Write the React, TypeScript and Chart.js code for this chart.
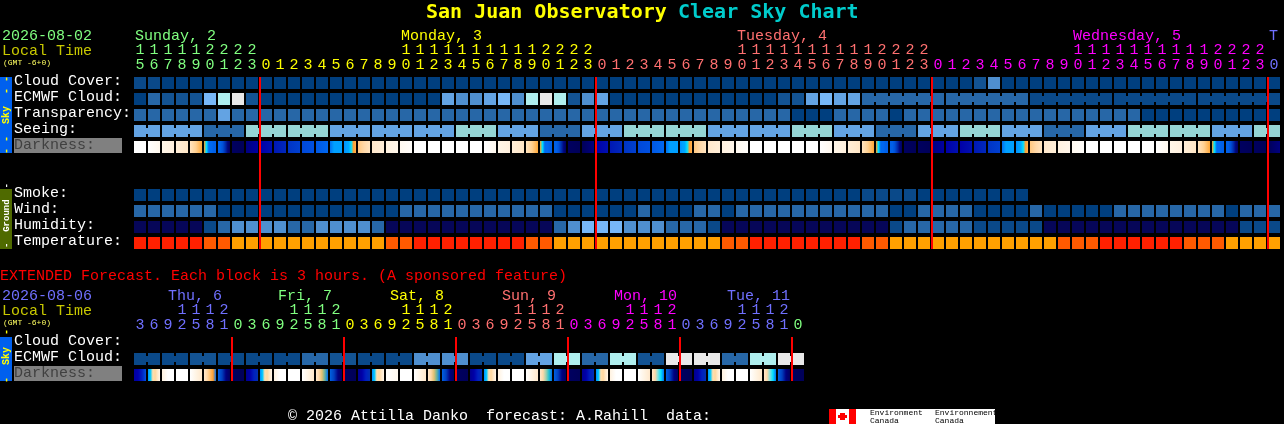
import React, { useEffect, useRef } from "react";
import { Chart, registerables } from "chart.js";

Chart.register(...registerables);

const MONO = '"Liberation Mono", monospace';
const TITLE_FONT = '"DejaVu Sans Mono", monospace';

// colour tables, values below index into them
const skyPalette = ["#003f7f", "#0a4989", "#135393", "#2767a7", "#4f8fcf", "#63a3e3", "#77b7f7", "#afeeee", "#e9e9e9", "#95d5d5", "#060658"];
const tempPalette = ["#ff2000", "#ff5a00", "#ffa000"];
const darknessStops: Record<string, string[]> = {
  W: ["#ffffff", "#ffffff"],
  A: ["#ffffff", "#fff8ee"],
  B: ["#fff6e8", "#fff0de"],
  C: ["#ffeed8", "#ffe6c6"],
  D: ["#ffe4c0", "#ffd090", "#ffa838"],
  E: ["#ffa020", "#00e0ff", "#0068f0", "#0068f0", "#0060e8", "#0060e8"],
  F: ["#0060e8", "#0060e8", "#0050d8", "#0030b0", "#000880", "#000060"],
  N: ["#000060", "#000058"],
  O: ["#000058", "#000080"],
  G: ["#000080", "#0000a0"],
  H: ["#0000a8", "#0010b0"],
  I: ["#0018b4", "#0028bc"],
  J: ["#0034c4", "#0040d0"],
  K: ["#0048d8", "#0050e0"],
  L: ["#0058e4", "#0068f0"],
  M: ["#0070f0", "#00a0ff", "#00a0ff", "#00a0ff"],
  P: ["#0090ff", "#00a0ff", "#00a8ff", "#00e0ff", "#ffa030", "#ffb050"],
  Q: ["#ffc880", "#ffd8a8", "#ffe4c0"],
  R: ["#ffe8cc", "#ffeed8"],
  S: ["#fff2e0", "#fff6ea"],
  T: ["#fff9f0", "#fffdfa"],
  a: ["#0000a0", "#0000b0", "#0020c0", "#0050e0"],
  b: ["#0090ff", "#00c8ff", "#ffe0b0", "#ffd8a0", "#ffe8c8", "#fff6ea"],
  c: ["#fff2e0", "#ffffff", "#ffffff"],
  e: ["#ffffff", "#fff4e4", "#ffe8cc"],
  f: ["#ffe8cc", "#ffd8a8", "#ffc070", "#ffa030", "#0070f0"],
  g: ["#0060e0", "#0040c0", "#000080", "#000060"],
  h: ["#000090", "#0000a8", "#0020c0", "#0030b0"],
  i: ["#ffe8cc", "#ffd8a8", "#e0c070", "#60b0a0", "#0070f0"],
  j: ["#ffe8cc", "#ffd8a8", "#a0d0b0", "#20c0d0", "#0070f0"],
  k: ["#ffe8cc", "#ffd8a8", "#80e0e0", "#00e0ff", "#0070f0"],
};

// hourly forecast
const hours = [15,16,17,18,19,20,21,22,23,
  0,1,2,3,4,5,6,7,8,9,10,11,12,13,14,15,16,17,18,19,20,21,22,23,
  0,1,2,3,4,5,6,7,8,9,10,11,12,13,14,15,16,17,18,19,20,21,22,23,
  0,1,2,3,4,5,6,7,8,9,10,11,12,13,14,15,16,17,18,19,20,21,22,23,
  0];
const hourDayColours = [[0, "#80ff80"], [9, "#ffff00"], [33, "#ff7070"], [57, "#ff00ff"], [81, "#7070ff"]] as [number, string][];
const midnights = [9, 33, 57, 81];
const mainRows = ["Cloud Cover:", "ECMWF Cloud:", "Transparency:", "Seeing:", "Darkness:", "", "", "Smoke:", "Wind:", "Humidity:", "Temperature:"];

const cloudCover = [
  1,1,0,0,0,0,0,0,0,0, 0,0,0,0,0,0,0,0,0,0, 0,0,0,0,0,0,0,0,0,0, 0,0,0,0,0,0,0,0,0,0,
  0,0,0,0,0,0,0,0,0,0, 0,0,0,0,0,0,0,0,0,0, 2,4,0,0,0,0,0,0,0,0, 0,0,0,0,0,0,0,0,0,0, 0,0];
const ecmwfCloud = [
  0,3,2,2,2,6,7,8,2,0, 0,0,0,0,0,0,0,0,0,0, 0,0,5,4,4,5,6,4,7,8, 7,2,4,5,0,0,0,0,0,0,
  0,0,0,0,0,0,2,2,5,6, 5,5,3,3,3,3,3,3,3,3, 3,3,3,3,1,1,1,1,1,1, 1,1,1,1,1,1,1,1,1,1, 1,1];
const ecmwfBlocks = [1,1,1,1,1,1,1,1,1,1, 1,1,1,1,1,1,1,1,1,1, 1,1,1,1,1,1,1,1,1,1, 1,1,1,1,1,1,1,1,1,1, 1,1,1,1,1,1,1,1,1,1, 1,1, 6,6,6,6,6];
const transparency = [
  3,3,3,3,3,3,5,3,3,3, 3,3,3,3,3,3,3,3,3,3, 3,3,3,3,3,3,3,3,3,3, 3,3,3,3,3,3,3,3,3,3,
  3,3,3,3,3,3,3,0,0,0, 3,3,3,3,0,3,3,3,3,3, 3,3,3,3,3,3,3,3,3,3, 3,3,0,0,0,0,0,0,0,0, 0,0];
const seeing = [
  5,5,5,5,5,3,3,3,9,9, 9,9,9,9,5,5,5,5,5,5, 5,5,5,9,9,9,5,5,5,3, 3,3,5,5,5,9,9,9,9,9,
  9,5,5,5,5,5,5,9,9,9, 5,5,5,3,3,3,5,5,5,9, 9,9,5,5,5,3,3,3,5,5, 5,9,9,9,9,9,9,5,5,5, 9,9];
const seeingBlocks = [2,3,3,3,3,3,3,3,3,3,3,3,3,3,3,3,3,3,3,3,3,3,3,3,3,3,3,2];
const darkness = [
  "W","A","B","C","D","E","F","N","G","H","I","J","K","L","M","P","Q","R","S","T","W","W","W","W",
  "W","A","B","C","D","E","F","N","O","H","I","J","K","L","M","P","Q","R","S","T","W","W","W","W",
  "W","A","B","C","D","E","F","N","N","G","H","H","I","J","M","P","Q","R","S","T","W","W","W","W",
  "W","A","B","C","D","E","F","N","N","O"];
const smoke = [
  0,0,0,0,0,0,0,0,0,0, 0,0,0,0,0,0,0,0,0,0, 0,0,0,0,0,0,0,0,0,0, 0,0,0,0,0,0,0,0,0,0,
  0,0,0,0,0,0,0,0,0,0, 0,0,1,1,1,1,0,0,0,0, 0,0,0,0];
const wind = [
  3,3,3,3,3,3,0,0,0,0, 0,0,0,0,0,0,0,0,0,3, 3,3,3,3,3,3,3,3,3,3, 0,0,0,0,0,0,3,0,0,0,
  3,3,0,3,3,3,3,3,3,3, 3,3,3,3,0,0,3,3,3,3, 0,0,0,0,3,0,0,0,0,0, 3,3,3,3,3,3,3,3,0,3, 3,3];
const humidity = [
  10,10,10,10,10,1,3,4,4,4, 4,3,3,4,4,4,4,3,10,10, 10,10,10,10,10,10,10,10,10,10, 3,4,6,6,6,4,4,4,3,3,
  3,1,10,10,10,10,10,10,10,10, 10,10,10,10,1,3,3,3,3,3, 1,1,1,1,1,10,10,10,10,10, 10,10,10,10,10,10,10,10,10,1, 1,1];
const temperature = [
  0,0,0,0,0,1,1,2,2,2, 2,2,2,2,2,2,2,2,1,1, 0,0,0,0,0,0,0,0,1,1, 2,2,2,2,2,2,2,2,2,2,
  2,2,1,1,0,0,0,0,0,0, 0,0,1,1,2,2,2,2,2,2, 2,2,2,2,2,2,1,1,1,0, 0,0,0,0,0,1,1,1,2,2, 2,2];

// extended forecast
const extHours = [3,6,9,12,15,18,21, 0,3,6,9,12,15,18,21, 0,3,6,9,12,15,18,21, 0,3,6,9,12,15,18,21, 0,3,6,9,12,15,18,21, 0,3,6,9,12,15,18,21, 0];
const extDayColours = [[0, "#7070ff"], [7, "#80ff80"], [15, "#ffff00"], [23, "#ff7070"], [31, "#ff00ff"], [39, "#7070ff"], [47, "#80ff80"]] as [number, string][];
const extMidnights = [7, 15, 23, 31, 39, 47];
const extRows = ["Cloud Cover:", "ECMWF Cloud:", "Darkness:"];
const extEcmwf = [1,1, 1,1, 2,2, 1,1, 1,1, 1,1, 3,3, 2,2, 1,1, 1,1, 4,4, 4,4, 1,1, 1,1, 5,5, 7,7, 3,3, 7,7, 2,2, 8,8, 8,8, 3,3, 7,7, 8,8];
const extBlocks = [2,2,2,2,2,2,2,2,2,2,2,2,2,2,2,2,2,2,2,2,2,2,2,2];
const extDarkness = [
  "a","b","c","W","e","f","g","N", "h","b","c","W","e","i","g","N",
  "h","b","A","W","e","i","g","N", "h","b","c","W","e","j","g","N",
  "h","b","c","W","e","k","g","N", "h","b","c","W","e","k","g","N"];

type Txt = { text: string; x: number; y: number; color: string; font: string; rot?: boolean };
const body = `15px ${MONO}`;
const tiny = `8px ${MONO}`;
const side = `bold 10px ${MONO}`;

const mainTexts: Txt[] = [
  { text: "San Juan Observatory", x: 426, y: 18, color: "#ffff00", font: `bold 20px ${TITLE_FONT}` },
  { text: "Clear Sky Chart", x: 678, y: 18, color: "#00cccc", font: `bold 20px ${TITLE_FONT}` },
  { text: "2026-08-02", x: 2, y: 40, color: "#80ff80", font: body },
  { text: "Local Time", x: 2, y: 55, color: "#c8c800", font: body },
  { text: "(GMT -6+0)", x: 3, y: 65, color: "#ffff60", font: tiny },
  { text: "Sunday, 2", x: 135, y: 40, color: "#80ff80", font: body },
  { text: "Monday, 3", x: 401, y: 40, color: "#ffff00", font: body },
  { text: "Tuesday, 4", x: 737, y: 40, color: "#ff7070", font: body },
  { text: "Wednesday, 5", x: 1073, y: 40, color: "#ff00ff", font: body },
  { text: "T", x: 1269, y: 40, color: "#7070ff", font: body },
  { text: "- -  Sky  - -", x: 9, y: 154, color: "#ffff00", font: side, rot: true },
  { text: "-  Ground  -", x: 9, y: 248, color: "#ffffff", font: `bold 9px ${MONO}`, rot: true },
];
const extTexts: Txt[] = [
  { text: "EXTENDED Forecast. Each block is 3 hours. (A sponsored feature)", x: 0, y: 280, color: "#ff0000", font: body },
  { text: "2026-08-06", x: 2, y: 300, color: "#7070ff", font: body },
  { text: "Local Time", x: 2, y: 315, color: "#c8c800", font: body },
  { text: "(GMT -6+0)", x: 3, y: 325, color: "#ffff60", font: tiny },
  { text: "Thu, 6", x: 168, y: 300, color: "#7070ff", font: body },
  { text: "Fri, 7", x: 278, y: 300, color: "#80ff80", font: body },
  { text: "Sat, 8", x: 390, y: 300, color: "#ffff00", font: body },
  { text: "Sun, 9", x: 502, y: 300, color: "#ff7070", font: body },
  { text: "Mon, 10", x: 614, y: 300, color: "#ff00ff", font: body },
  { text: "Tue, 11", x: 727, y: 300, color: "#7070ff", font: body },
  { text: "-  Sky  -", x: 9, y: 383, color: "#ffff00", font: side, rot: true },
  { text: "\u00a9 2026 Attilla Danko  forecast: A.Rahill  data:", x: 288, y: 420, color: "#ffffff", font: body },
  { text: "Environment", x: 870, y: 415, color: "#000000", font: `8px ${MONO}` },
  { text: "Canada", x: 870, y: 423, color: "#000000", font: `8px ${MONO}` },
  { text: "Environnement", x: 935, y: 415, color: "#000000", font: `8px ${MONO}` },
  { text: "Canada", x: 935, y: 423, color: "#000000", font: `8px ${MONO}` },
];

type Rect = [number, number, number, number, string];
const mainStrips: Rect[] = [[0, 77, 12, 76, "#0060ee"], [0, 189, 12, 60, "#4f6a00"], [14, 138, 108, 15, "#808080"]];
const extStrips: Rect[] = [
  [0, 337, 12, 44, "#0060ee"], [14, 366, 108, 15, "#808080"],
  [829, 409, 166, 15, "#ffffff"], [829, 409, 7, 15, "#ff0000"], [849, 409, 7, 15, "#ff0000"], [840, 413, 5, 7, "#ff0000"], [838, 415, 9, 3, "#ff0000"],
];

function joins(blocks: number[]): number[] {
  const out: number[] = [];
  let i = 0;
  for (const len of blocks) {
    for (let k = 0; k < len - 1; k++) out.push(i + k);
    i += len;
  }
  return out;
}

function cellRow(label: string, row: number, values: number[], palette: string[]) {
  return {
    label, stack: "cells", barThickness: 12, inflateAmount: 0, borderWidth: 0,
    data: values.map((_, i) => ({ x: i, y: [row - 0.375, row + 0.375] })),
    backgroundColor: values.map((v) => palette[v]),
  };
}
function joinRow(label: string, row: number, values: number[], blocks: number[], palette: string[]) {
  const idx = joins(blocks);
  return {
    label, stack: "cells", barThickness: 2, inflateAmount: 0, borderWidth: 0,
    data: idx.map((i) => ({ x: i + 0.5, y: [row - 0.1875, row + 0.1875] })),
    backgroundColor: idx.map((i) => palette[values[i]]),
  };
}
function gradientRow(label: string, row: number, keys: string[]) {
  return {
    label, stack: "cells", barThickness: 12, inflateAmount: 0, borderWidth: 0,
    data: keys.map((_, i) => ({ x: i, y: [row - 0.375, row + 0.375] })),
    backgroundColor: (c: any) => {
      const key = keys[c.dataIndex];
      const px = c.chart.scales.x.getPixelForValue(c.dataIndex);
      if (key === undefined || !isFinite(px)) return "#000";
      const g = c.chart.ctx.createLinearGradient(px - 6, 0, px + 6, 0);
      const stops = darknessStops[key];
      stops.forEach((s, i) => g.addColorStop(i / (stops.length - 1), s));
      return g;
    },
  };
}
function redLines(at: number[], top: number, bottom: number) {
  return {
    label: "Midnight", stack: "cells", barThickness: 2, inflateAmount: 0, borderWidth: 0,
    data: at.map((m) => ({ x: m - 0.5 + 1 / 14, y: [top, bottom] })),
    backgroundColor: "#ff0000",
  };
}

function decor(strips: Rect[], texts: Txt[], offsetY: number) {
  return {
    id: "decor",
    beforeDraw(chart: any) {
      const ctx = chart.ctx;
      ctx.save();
      strips.forEach(([x, y, w, h, col]) => {
        ctx.fillStyle = col;
        ctx.fillRect(x, y - offsetY, w, h);
      });
      texts.forEach((t) => {
        ctx.save();
        ctx.fillStyle = t.color;
        ctx.font = t.font;
        ctx.textAlign = "left";
        ctx.textBaseline = "alphabetic";
        if (t.rot) {
          ctx.translate(t.x, t.y - offsetY);
          ctx.rotate(-Math.PI / 2);
          ctx.fillText(t.text, 0, 0);
        } else {
          ctx.fillText(t.text, t.x, t.y - offsetY);
        }
        ctx.restore();
      });
      ctx.restore();
    },
  };
}

function colourAt(table: [number, string][], i: number) {
  let col = table[0][1];
  for (const [start, c] of table) if (i >= start) col = c;
  return col;
}

function buildOptions(
  hrs: number[], dayCols: [number, string][], rows: string[],
  axisHeight: number, padBottom: number, padRight: number, tickPad: number,
): any {
  return {
    responsive: false, animation: false, events: [], devicePixelRatio: 1,
    layout: { padding: { left: 14, right: padRight, top: 0, bottom: padBottom } },
    plugins: { legend: { display: false }, title: { display: false }, tooltip: { enabled: false } },
    scales: {
      x: {
        type: "linear", position: "top", min: -0.5, max: hrs.length - 0.5, offset: false,
        grid: { display: false, drawTicks: false }, border: { display: false },
        afterBuildTicks: (a: any) => { a.ticks = hrs.map((_, i) => ({ value: i })); },
        afterFit: (s: any) => { s.height = axisHeight; },
        ticks: {
          autoSkip: false, maxRotation: 0, minRotation: 0, padding: tickPad,
          font: { family: MONO, size: 15, lineHeight: 1 },
          color: (c: any) => colourAt(dayCols, c.tick.value),
          callback: (v: number) => {
            const h = hrs[v];
            return h === undefined ? "" : [h >= 10 ? String(Math.floor(h / 10)) : " ", String(h % 10)];
          },
        },
      },
      y: {
        type: "linear", reverse: true, stacked: false, min: -0.5, max: rows.length - 0.5,
        grid: { display: false, drawTicks: false }, border: { display: false },
        afterBuildTicks: (a: any) => { a.ticks = rows.map((_, i) => ({ value: i })); },
        afterFit: (s: any) => { s.width = 119; },
        ticks: {
          autoSkip: false, crossAlign: "far", padding: 0,
          // two-line label with a short line height lifts the text slightly above the row centre
          font: { family: MONO, size: 15, lineHeight: "4px" },
          color: (c: any) => (rows[c.tick.value] === "Darkness:" ? "#404040" : "#ffffff"),
          callback: (v: number) => (rows[v] ? [rows[v], ""] : ""),
        },
      },
    },
  };
}

export default function App() {
  const mainRef = useRef<HTMLCanvasElement>(null);
  const extRef = useRef<HTMLCanvasElement>(null);
  useEffect(() => {
    document.body.style.margin = "0";
    document.body.style.background = "#000";
    const main = new Chart(mainRef.current as any, {
      type: "bar",
      data: {
        datasets: [
          redLines(midnights, -0.375, 10.375),
          joinRow("ECMWF join", 1, ecmwfCloud, ecmwfBlocks, skyPalette),
          joinRow("Seeing join", 3, seeing, seeingBlocks, skyPalette),
          cellRow("Cloud Cover", 0, cloudCover, skyPalette),
          cellRow("ECMWF Cloud", 1, ecmwfCloud, skyPalette),
          cellRow("Transparency", 2, transparency, skyPalette),
          cellRow("Seeing", 3, seeing, skyPalette),
          gradientRow("Darkness", 4, darkness),
          cellRow("Smoke", 7, smoke, skyPalette),
          cellRow("Wind", 8, wind, skyPalette),
          cellRow("Humidity", 9, humidity, skyPalette),
          cellRow("Temperature", 10, temperature, tempPalette),
        ] as any,
      },
      options: buildOptions(hours, hourDayColours, mainRows, 75, 11, 3, 2),
      plugins: [decor(mainStrips, mainTexts, 0)],
    });
    const ext = new Chart(extRef.current as any, {
      type: "bar",
      data: {
        datasets: [
          redLines(extMidnights, -0.375, 2.375),
          joinRow("ECMWF join", 1, extEcmwf, extBlocks, skyPalette),
          cellRow("ECMWF Cloud", 1, extEcmwf, skyPalette),
          gradientRow("Darkness", 2, extDarkness),
        ] as any,
      },
      options: buildOptions(extHours, extDayColours, extRows, 73, 41, 479, 2),
      plugins: [decor(extStrips, extTexts, 262)],
    });
    return () => { main.destroy(); ext.destroy(); };
  }, []);
  return (
    <div style={{ position: "absolute", left: 0, top: 0, width: 1284, height: 424, background: "#000", overflow: "hidden" }}>
      <canvas ref={mainRef} width={1284} height={262} style={{ position: "absolute", left: 0, top: 0, width: 1284, height: 262 }} />
      <canvas ref={extRef} width={1284} height={162} style={{ position: "absolute", left: 0, top: 262, width: 1284, height: 162 }} />
    </div>
  );
}
